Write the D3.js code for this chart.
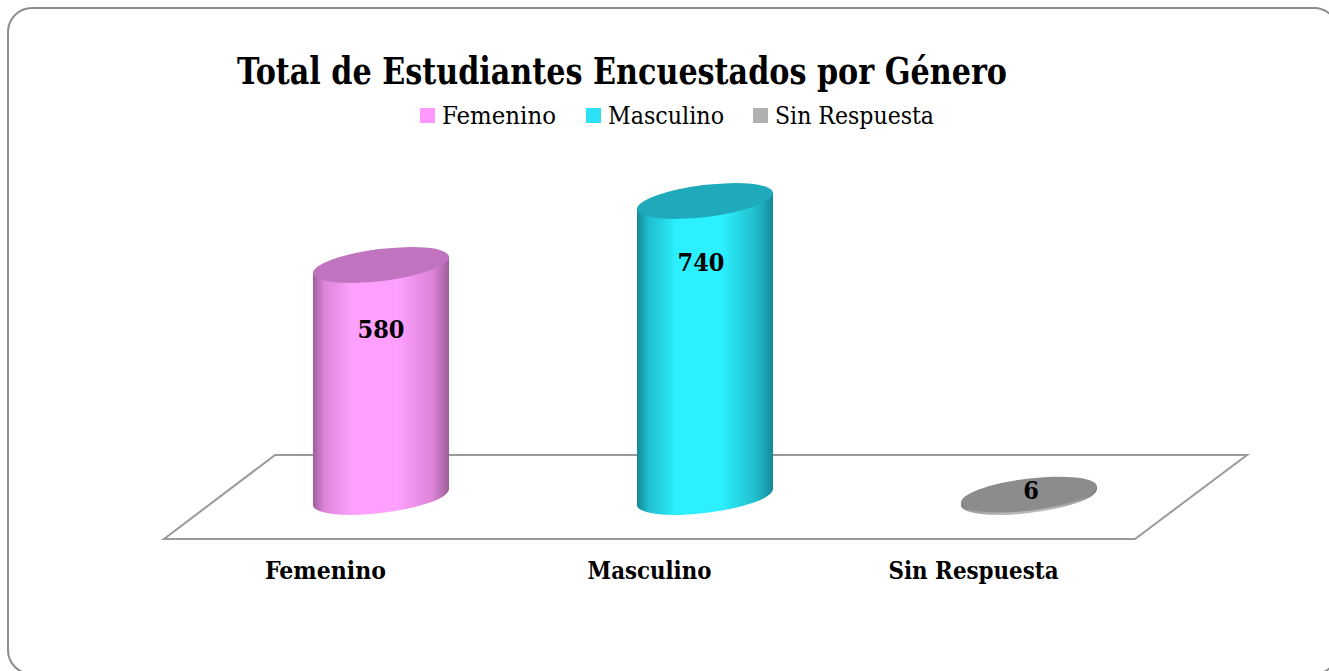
<!DOCTYPE html>
<html>
<head>
<meta charset="utf-8">
<style>
  html, body { margin: 0; padding: 0; background: #fff; overflow: hidden; }
  text { font-family: "DejaVu Serif Condensed", "DejaVu Serif", serif; fill: #000; }
</style>
</head>
<body>
<svg id="chart" width="1329" height="671"></svg>
<script src="https://d3js.org/d3.v7.min.js"></script>
<script>
// data
var categories = ["Femenino", "Masculino", "Sin Respuesta"];
var values = [580, 740, 6];
var bodyLight = ["#ffa0ff", "#2cf0ff", "#b8b8b8"];
var bodyMid = ["#dc84d8", "#20bccb", "#a0a0a0"];
var bodyDark = ["#9c5f98", "#15889a", "#777777"];
var capColors = ["#c074c0", "#1eaabb", "#8c8c8c"];
var legendColors = ["#ff99ff", "#2ce0f5", "#b0b0b0"];
var legendX = [420, 586, 753];
var legendWidths = [114, 116, 159];
var labelWidths = [121, 124, 170];

var svg = d3.select("#chart");

// outer frame, runs off the right and bottom of the page
svg.append("rect")
  .attr("x", 8).attr("y", 8)
  .attr("width", 1330).attr("height", 666)
  .attr("rx", 24).attr("ry", 24)
  .attr("fill", "#fff")
  .attr("stroke", "#8c8c8c")
  .attr("stroke-width", 2);

svg.append("text")
  .attr("x", 237).attr("y", 84)
  .attr("font-size", 38).attr("font-weight", "bold")
  .attr("textLength", 770).attr("lengthAdjust", "spacingAndGlyphs")
  .text("Total de Estudiantes Encuestados por Género");

// legend
var legend = svg.append("g").selectAll("g")
  .data(categories).enter().append("g")
  .attr("transform", function(d, i) { return "translate(" + legendX[i] + ",108)"; });
legend.append("rect")
  .attr("width", 15).attr("height", 15)
  .attr("fill", function(d, i) { return legendColors[i]; });
legend.append("text")
  .attr("x", 22).attr("y", 16)
  .attr("font-size", 25)
  .attr("textLength", function(d, i) { return legendWidths[i]; })
  .attr("lengthAdjust", "spacingAndGlyphs")
  .text(function(d) { return d; });

// scales
var x = d3.scalePoint().domain(categories).range([381, 1029]);
var y = d3.scaleLinear().domain([0, 740]).range([497, 201]);

// floor
svg.append("path")
  .attr("d", d3.line()([[164, 539], [275, 455], [1247, 455], [1135, 539]]) + "Z")
  .attr("fill", "#fff")
  .attr("stroke", "#9a9a9a")
  .attr("stroke-width", 2);

// x axis, sits on the front of the floor so it is shifted left of the bars
var labelShift = -56;
var axis = svg.append("g")
  .attr("transform", "translate(" + labelShift + ",539)")
  .call(d3.axisBottom(x).tickSize(0).tickPadding(22));
axis.select(".domain").remove();
axis.selectAll("text")
  .attr("font-size", 25).attr("font-weight", "bold")
  .attr("font-family", "DejaVu Serif Condensed")
  .attr("fill", "#000")
  .attr("textLength", function(d, i) { return labelWidths[i]; })
  .attr("lengthAdjust", "spacingAndGlyphs");

// cylinders
var rx = 68.5, ry = 16, tilt = -7;
var th = tilt * Math.PI / 180;
var t0 = Math.atan(-(ry / rx) * Math.tan(th));
var edgeX = Math.abs(rx * Math.cos(t0) * Math.cos(th) - ry * Math.sin(t0) * Math.sin(th));
var edgeY = Math.abs(rx * Math.cos(t0) * Math.sin(th) + ry * Math.sin(t0) * Math.cos(th));

var defs = svg.append("defs");
categories.forEach(function(c, i) {
  var g = defs.append("linearGradient").attr("id", "body" + i);
  [[0, bodyDark[i]], [0.08, bodyMid[i]], [0.29, bodyLight[i]], [0.62, bodyLight[i]], [0.88, bodyMid[i]], [1, bodyDark[i]]].forEach(function(s) {
    g.append("stop").attr("offset", s[0]).attr("stop-color", s[1]);
  });
});

var bars = svg.append("g").selectAll("g")
  .data(values).enter().append("g");

bars.append("path")
  .attr("fill", function(d, i) { return "url(#body" + i + ")"; })
  .attr("d", function(d, i) {
    var cx = x(categories[i]), top = y(d), base = y(0);
    return "M" + (cx - edgeX) + "," + (top + edgeY) +
      "L" + (cx - edgeX) + "," + (base + edgeY) +
      "A" + rx + "," + ry + " " + tilt + " 0 0 " + (cx + edgeX) + "," + (base - edgeY) +
      "L" + (cx + edgeX) + "," + (top - edgeY) + "Z";
  });

bars.append("ellipse")
  .attr("rx", rx).attr("ry", ry)
  .attr("fill", function(d, i) { return capColors[i]; })
  .attr("transform", function(d, i) {
    return "translate(" + x(categories[i]) + "," + y(d) + ") rotate(" + tilt + ")";
  });

// value labels
var labelDx = [0, -4, 2];
var labelDy = [73, 70, 4];
bars.append("text")
  .attr("text-anchor", "middle")
  .attr("font-size", 25).attr("font-weight", "bold")
  .attr("x", function(d, i) { return x(categories[i]) + labelDx[i]; })
  .attr("y", function(d, i) { return y(d) + labelDy[i]; })
  .text(function(d) { return d; });
</script>
</body>
</html>
